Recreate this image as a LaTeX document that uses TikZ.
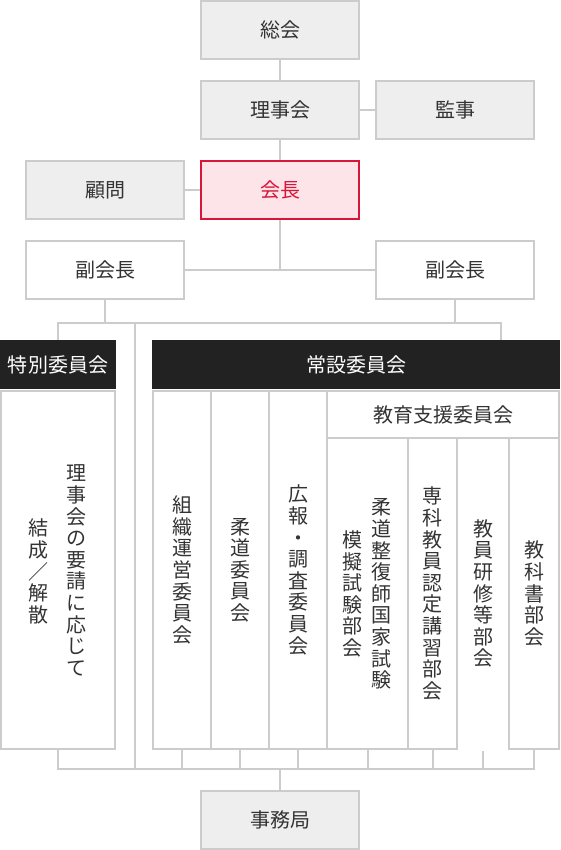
\documentclass[tikz,border=0pt]{standalone}
\usepackage{fontspec}
\newfontfamily\jp{Noto Sans CJK JP}
\definecolor{lineg}{HTML}{CCCCCC}
\definecolor{boxg}{HTML}{EEEEEE}
\definecolor{txt}{HTML}{333333}
\definecolor{redc}{HTML}{D7163B}
\definecolor{pinkc}{HTML}{FDE4E9}
\definecolor{hdr}{HTML}{222222}
\begin{document}
\begin{tikzpicture}[x=1pt,y=-1pt,
  box/.style={draw=lineg, line width=2pt, minimum width=158pt, minimum height=58pt, inner sep=0pt, font=\jp\fontsize{20}{24}\selectfont, text=txt},
  gbox/.style={box, fill=boxg},
  wbox/.style={box, fill=white},
  redbox/.style={box, draw=redc, fill=pinkc, text=redc},
  head/.style={fill=hdr, text=white, inner sep=0pt, minimum height=49pt, font=\jp\fontsize{20}{24}\selectfont},
  col/.style={draw=lineg, line width=2pt, inner sep=0pt, font=\jp\fontsize{20}{21.6}\selectfont, align=center, text=txt},
  vtext/.style={inner sep=0pt, font=\jp\fontsize{20}{21.6}\selectfont, align=center, text=txt},
  conn/.style={draw=lineg, line width=2pt}]
\useasboundingbox (0,0) rectangle (560,850);

% top hierarchy
\node[gbox] (soukai) at (280,30) {総会};
\node[gbox] (rijikai) at (280,110) {理事会};
\node[gbox] (kanji) at (455,110) {監事};
\node[gbox] (komon) at (105,190) {顧問};
\node[redbox] (kaicho) at (280,190) {会長};
\node[wbox] (fuku1) at (105,270) {副会長};
\node[wbox] (fuku2) at (455,270) {副会長};

\draw[conn] (soukai.south) -- (rijikai.north);
\draw[conn] (rijikai.east) -- (kanji.west);
\draw[conn] (rijikai.south) -- (kaicho.north);
\draw[conn] (komon.east) -- (kaicho.west);
\coordinate (jf) at (280,270);
\draw[conn] (fuku1.east) -- (fuku2.west);
\draw[conn] (kaicho.south) -- (jf);

% headers
\node[head, minimum width=116pt] (tokuhead) at (58,364.5) {特別委員会};
\node[head, minimum width=408pt] (jouhead) at (356,364.5) {常設委員会};

% special committee body
\node[col, minimum width=114pt, minimum height=358pt] (toku) at (58,570) {};
\node[vtext] (tokuA) at (76,570.5) {理\\事\\会\\の\\要\\請\\に\\応\\じ\\て};
\node[vtext] (tokuB) at (38,571.5) {結\\成\\／\\解\\散};

% standing committee columns
\node[col, minimum width=58pt, minimum height=358pt] (c1) at (182,570) {組\\織\\運\\営\\委\\員\\会};
\node[col, minimum width=58pt, minimum height=358pt] (c2) at (240,570) {柔\\道\\委\\員\\会};
\node[col, minimum width=58pt, minimum height=358pt] (c3) at (298,570) {広\\報\\・\\調\\査\\委\\員\\会};
\node[col, minimum width=232pt, minimum height=47pt, font=\jp\fontsize{20}{24}\selectfont] (edu) at (443,414.5) {教育支援委員会};
\node[col, minimum width=81pt, minimum height=311pt] (s1) at (367.5,593.5) {};
\node[vtext] (s1A) at (381,594) {柔\\道\\整\\復\\師\\国\\家\\試\\験};
\node[vtext] (s1B) at (352.5,594) {模\\擬\\試\\験\\部\\会};
\node[col, minimum width=49pt, minimum height=311pt] (s2) at (432.5,593.5) {専\\科\\教\\員\\認\\定\\講\\習\\部\\会};
\node[col, draw=none, minimum width=52pt, minimum height=311pt] (s3) at (483,593.5) {教\\員\\研\\修\\等\\部\\会};
\node[col, minimum width=50pt, minimum height=311pt] (s4) at (534,593.5) {教\\科\\書\\部\\会};

% connectors from vice presidents
\coordinate (h1) at (59,323);
\coordinate (h2) at (501,323);
\coordinate (hv) at (135,323);
\coordinate (bot) at (280,769);
\draw[conn] (tokuhead.north) -- (tokuhead.north |- h1) -- (h2) -- (h2 |- jouhead.north);
\draw[conn] (fuku1.south) -- (fuku1.south |- h1);
\draw[conn] (fuku2.south) -- (fuku2.south |- h1);
\draw[conn] (hv) -- (hv |- bot);

% bottom connectors
\draw[conn] (toku.south) -- (toku.south |- bot) -- (s4.south |- bot) -- (s4.south);
\draw[conn] (c1.south) -- (c1.south |- bot);
\draw[conn] (c2.south) -- (c2.south |- bot);
\draw[conn] (c3.south) -- (c3.south |- bot);
\draw[conn] (s1.south) -- (s1.south |- bot);
\draw[conn] (s2.south) -- (s2.south |- bot);
\draw[conn] ([yshift=-1pt]s3.south) -- (s3.south |- bot);

\node[gbox] (jimu) at (280,820) {事務局};
\draw[conn] (bot) -- (jimu.north);
\end{tikzpicture}
\end{document}
